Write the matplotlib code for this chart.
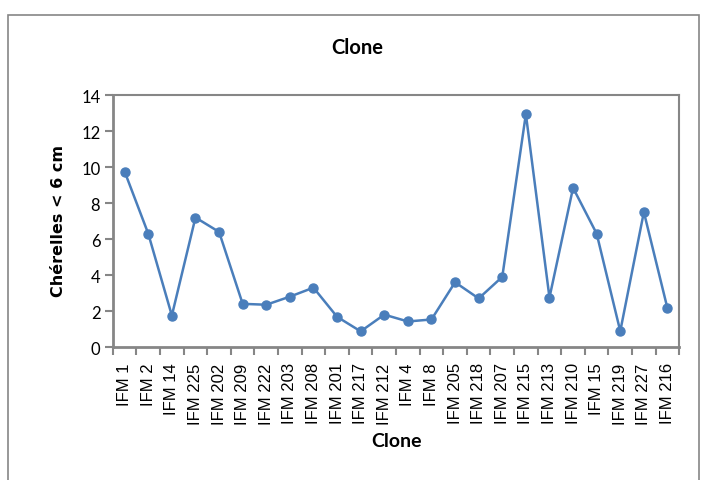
import matplotlib.pyplot as plt
from matplotlib.patches import Rectangle
import numpy as np

# Données
clones = ['IFM 1', 'IFM 2', 'IFM 14', 'IFM 225', 'IFM 202', 'IFM 209', 'IFM 222',
          'IFM 203', 'IFM 208', 'IFM 201', 'IFM 217', 'IFM 212', 'IFM 4', 'IFM 8',
          'IFM 205', 'IFM 218', 'IFM 207', 'IFM 215', 'IFM 213', 'IFM 210',
          'IFM 15', 'IFM 219', 'IFM 227', 'IFM 216']
cherelles = [9.75, 6.3, 1.75, 7.2, 6.4, 2.4, 2.35, 2.8, 3.3, 1.68, 0.87, 1.8,
             1.42, 1.53, 3.6, 2.7, 3.9, 12.95, 2.75, 8.85, 6.3, 0.88, 7.5, 2.15]
y_ticks = [0, 2, 4, 6, 8, 10, 12, 14]

grey = '#868686'
blue = '#4a7ebb'

fig = plt.figure(figsize=(7.01, 4.81), dpi=100)
ax = fig.add_axes([0.161, 0.2765, 0.808, 0.5235])

x = np.arange(len(clones))
ax.plot(x, cherelles, color=blue, linewidth=1.8, marker='o', markersize=6.5,
        markerfacecolor=blue, markeredgecolor=blue)

ax.set_xlim(-0.5, len(clones) - 0.5)
ax.set_ylim(0, 14)
ax.set_yticks(y_ticks)
ax.set_yticklabels([str(v) for v in y_ticks], fontfamily='Lato', fontsize=12)

# étiquettes au centre, traits entre les catégories
ax.set_xticks(x)
ax.set_xticklabels(clones, rotation=90, fontfamily='Liberation Sans', fontsize=12)
ax.tick_params(axis='x', which='major', length=0, pad=11)
ax.set_xticks(np.arange(-0.5, len(clones)), minor=True)
ax.tick_params(axis='x', which='minor', length=6, width=1.5, color=grey, direction='out')
ax.tick_params(axis='y', length=6, width=1.5, color=grey, direction='out', pad=3)

for side in ['left', 'bottom']:
    ax.spines[side].set_color(grey)
    ax.spines[side].set_linewidth(2)
for side in ['top', 'right']:
    ax.spines[side].set_color(grey)
    ax.spines[side].set_linewidth(1.5)

fig.text(0.509, 0.90, 'Clone', ha='center', va='center', fontfamily='Lato',
         fontweight='bold', fontsize=14.5)
fig.text(0.566, 0.083, 'Clone', ha='center', va='center', fontfamily='Lato',
         fontweight='bold', fontsize=14)
fig.text(0.083, 0.54, 'Chérelles < 6 cm', ha='center', va='center', rotation=90,
         fontfamily='DejaVu Sans', fontweight='bold', fontsize=11.5)

# cadre extérieur
fig.patches.append(Rectangle((0.012, -0.05), 0.985, 1.0167, transform=fig.transFigure,
                             fill=False, edgecolor=grey, linewidth=1.2))

plt.savefig('out.png', dpi=100)
